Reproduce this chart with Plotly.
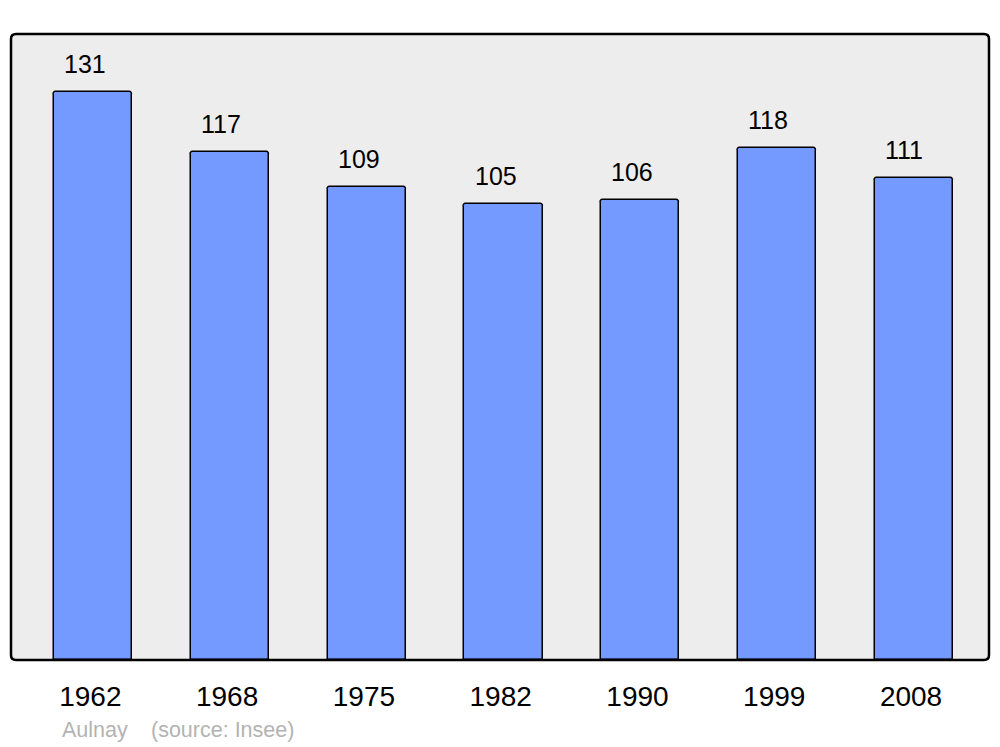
import plotly.graph_objects as go

years = ["1962", "1968", "1975", "1982", "1990", "1999", "2008"]
population = [131, 117, 109, 105, 106, 118, 111]
commune = "Aulnay"
source = "(source: Insee)"

xpos = list(range(len(years)))

fig = go.Figure()
fig.add_trace(go.Bar(
    x=xpos, y=population, width=0.572,
    marker=dict(color="#7499ff", line=dict(color="#000000", width=1.5), cornerradius=3),
    hoverinfo="skip",
))

for i, v in zip(xpos, population):
    fig.add_annotation(x=i - 0.225, y=v, xref="x", yref="y", text=str(v),
                       showarrow=False, xanchor="left", yanchor="middle", yshift=28,
                       font=dict(family="Liberation Sans, Arial, sans-serif", size=25, color="#000"))

fig.add_annotation(x=(60 - 11) / 978, y=0, xref="paper", yref="paper", text=commune,
                   showarrow=False, xanchor="left", yanchor="middle", yshift=-70,
                   font=dict(family="Liberation Sans, Arial, sans-serif", size=21.5, color="#b3b3b3"))
fig.add_annotation(x=(149 - 11) / 978, y=0, xref="paper", yref="paper", text=source,
                   showarrow=False, xanchor="left", yanchor="middle", yshift=-70,
                   font=dict(family="Liberation Sans, Arial, sans-serif", size=21.5, color="#b3b3b3"))

# rounded frame around plot area
rx, ry = 5 / 978, 5 / 626
path = (f"M {rx},0 L {1-rx},0 Q 1,0 1,{ry} L 1,{1-ry} Q 1,1 {1-rx},1 "
        f"L {rx},1 Q 0,1 0,{1-ry} L 0,{ry} Q 0,0 {rx},0 Z")
fig.add_shape(type="path", path=path, xref="paper", yref="paper",
              line=dict(color="#000000", width=2.5), layer="above")

# page body has an 8px margin: shrink figure and margins accordingly
fig.update_layout(
    width=992, height=739,
    margin=dict(l=3, r=11, t=26, b=87),
    paper_bgcolor="#ffffff", plot_bgcolor="#ededed",
    showlegend=False,
    bargap=0,
    xaxis=dict(range=[-0.6, 6.55], tickmode="array",
               tickvals=[p - 0.02 for p in xpos], ticktext=years,
               showgrid=False, zeroline=False, showline=False, ticks="",
               ticklabelstandoff=17,
               tickfont=dict(family="Liberation Sans, Arial, sans-serif", size=28, color="#000")),
    yaxis=dict(range=[0, 144.3], showgrid=False, zeroline=False, showline=False,
               showticklabels=False, ticks=""),
)

fig.write_html("out.html")
